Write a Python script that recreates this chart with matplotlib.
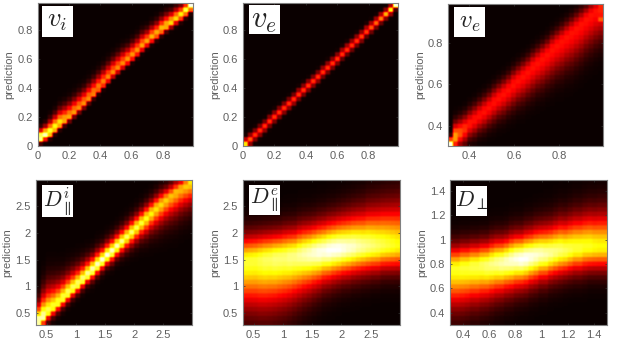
import numpy as np
import matplotlib
matplotlib.use('Agg')
import matplotlib.pyplot as plt
from matplotlib.patches import Rectangle

plt.rcParams['font.family'] = ['Liberation Sans', 'DejaVu Sans']
plt.rcParams['mathtext.fontset'] = 'cm'

W, H = 622, 351
GRAY = '#5f5f5f'

# Per-column readings of each heat map (32 columns): ridge height, ridge heat, spread above, spread below
vi_ridge = [.055,.07,.09,.12,.15,.175,.20,.23,.26,.29,.325,.36,.395,.43,.465,.50,.53,.56,.59,.62,.65,.685,.715,.745,.77,.80,.825,.85,.875,.90,.93,.965]
vi_peak = [1.0,.95,.85,.8,.75,.65,.62,.6,.58,.58,.58,.58,.58,.58,.58,.58,.58,.58,.6,.6,.6,.62,.62,.65,.65,.68,.68,.7,.7,.75,.85,1.0]
vi_up = [.035,.04,.05,.055,.06,.06,.06,.06,.06,.06,.06,.06,.06,.06,.06,.06,.06,.06,.055,.055,.055,.055,.05,.05,.05,.05,.05,.045,.045,.04,.035,.03]
vi_down = [.018,.018,.018,.018,.018,.018,.018,.018,.018,.018,.018,.018,.018,.018,.018,.018,.018,.018,.02,.02,.02,.02,.02,.02,.02,.02,.02,.022,.022,.022,.022,.022]

ve_ridge = [.012,.045,.075,.105,.135,.17,.20,.23,.26,.29,.32,.355,.385,.415,.445,.475,.51,.54,.57,.60,.635,.665,.695,.725,.755,.79,.82,.85,.88,.91,.94,.975]
ve_peak = [.72,.5,.44,.44,.44,.44,.44,.44,.44,.44,.44,.44,.44,.44,.44,.44,.44,.44,.44,.44,.44,.44,.44,.44,.46,.46,.5,.52,.56,.64,.74,1.0]
ve_up = [.024,.024,.024,.024,.024,.024,.024,.024,.024,.024,.024,.024,.024,.024,.024,.024,.024,.024,.024,.024,.024,.024,.024,.024,.024,.024,.022,.022,.022,.02,.02,.014]
ve_down = [.014,.022,.022,.022,.022,.022,.022,.022,.022,.022,.022,.022,.022,.022,.022,.022,.022,.022,.022,.022,.022,.022,.022,.022,.022,.022,.022,.022,.02,.02,.02,.016]

ve2_ridge = [.31,.345,.365,.385,.41,.43,.45,.47,.49,.515,.535,.555,.575,.60,.62,.64,.66,.685,.705,.725,.745,.77,.79,.81,.83,.85,.87,.89,.915,.935,.955,.975]
ve2_peak = [1.0,.62,.5,.44,.4,.39,.39,.39,.39,.39,.39,.39,.39,.39,.39,.39,.39,.39,.39,.39,.39,.39,.39,.39,.39,.39,.39,.39,.39,.39,.39,.42]
ve2_up = [.02,.045,.045,.045,.045,.045,.045,.045,.045,.045,.045,.045,.045,.045,.045,.045,.045,.045,.045,.045,.045,.045,.045,.045,.045,.045,.045,.045,.04,.04,.035,.03]
ve2_down = [.015,.035,.04,.045,.045,.05,.05,.055,.055,.06,.06,.065,.065,.07,.07,.075,.075,.08,.08,.085,.085,.09,.09,.095,.095,.10,.10,.10,.10,.10,.10,.10]
ve2_spot_col, ve2_spot_row, ve2_spot_heat = 31, 28, .5

dpi_ridge = [.34,.42,.52,.60,.68,.77,.86,.95,1.03,1.12,1.21,1.30,1.39,1.48,1.57,1.65,1.74,1.83,1.92,2.01,2.10,2.19,2.28,2.37,2.46,2.54,2.62,2.69,2.76,2.83,2.89,2.95]
dpi_peak = [1.0,.95,.85,.82,.82,.85,.88,.88,.9,.92,.95,.97,.98,1.0,1.0,.98,.95,.9,.85,.85,.82,.8,.78,.75,.72,.7,.68,.66,.66,.66,.68,.72]
dpi_up = [.18,.24,.26,.24,.22,.20,.19,.18,.17,.16,.15,.14,.14,.13,.13,.13,.13,.13,.13,.13,.13,.13,.13,.13,.13,.13,.12,.12,.12,.10,.10,.06]
dpi_down = [.06,.08,.08,.08,.08,.08,.08,.08,.08,.08,.08,.09,.09,.09,.09,.10,.10,.11,.12,.13,.14,.15,.17,.18,.20,.21,.22,.23,.24,.24,.24,.24]

dpe_ridge = [1.46,1.47,1.48,1.49,1.50,1.51,1.52,1.53,1.54,1.55,1.56,1.58,1.60,1.61,1.63,1.64,1.66,1.67,1.69,1.70,1.71,1.72,1.73,1.74,1.74,1.75,1.75,1.75,1.76,1.76,1.76,1.76]
dpe_peak = [.8,.8,.8,.82,.84,.84,.86,.86,.86,.88,.88,.9,.92,.94,.96,.98,.98,1.0,1.0,1.0,.98,.96,.95,.92,.9,.88,.86,.84,.82,.8,.78,.76]
dpe_up = [.30,.30,.30,.30,.30,.30,.30,.30,.31,.31,.31,.32,.32,.32,.32,.33,.33,.34,.34,.35,.36,.37,.38,.39,.40,.42,.43,.44,.45,.46,.47,.48]
dpe_down = [.52,.53,.54,.55,.55,.55,.54,.53,.52,.50,.48,.46,.44,.42,.40,.38,.36,.35,.34,.33,.32,.32,.31,.31,.30,.30,.29,.29,.28,.28,.28,.28]

dp_ridge = [.76,.76,.77,.77,.78,.78,.79,.79,.80,.81,.81,.82,.83,.84,.84,.85,.86,.87,.88,.88,.89,.90,.91,.91,.92,.93,.93,.94,.94,.94,.94,.94]
dp_peak = [.78,.78,.8,.8,.82,.82,.84,.86,.88,.9,.92,.94,.96,.98,1.0,1.0,.98,.96,.94,.92,.9,.88,.86,.84,.82,.8,.8,.78,.78,.76,.75,.75]
dp_up = [.115,.115,.115,.115,.115,.115,.115,.115,.12,.12,.12,.12,.125,.125,.125,.13,.13,.135,.135,.14,.14,.145,.15,.15,.155,.16,.16,.165,.17,.17,.175,.175]
dp_down = [.19,.19,.19,.185,.18,.18,.175,.17,.165,.16,.155,.15,.15,.145,.14,.14,.135,.135,.13,.13,.125,.125,.125,.12,.12,.12,.12,.12,.115,.115,.115,.115]

panel_labels = [r'$v_i$', r'$v_e$', r'$v_e$', r'$D_{\parallel}^{i}$', r'$D_{\parallel}^{e}$', r'$D_{\perp}$']
xticks_list = [[0,.2,.4,.6,.8],[0,.2,.4,.6,.8],[.4,.6,.8],[.5,1,1.5,2,2.5],[.5,1,1.5,2,2.5],[.4,.6,.8,1,1.2,1.4]]
yticks_list = [[0,.2,.4,.6,.8],[0,.2,.4,.6,.8],[.4,.6,.8],[.5,1,1.5,2,2.5],[.5,1,1.5,2,2.5],[.4,.6,.8,1,1.2,1.4]]

limits = [(0,.987,0,.986),(0,.987,0,.986),(.307,.995,.303,.988),(.31,2.99,.276,2.99),(.32,2.99,.276,2.99),(.30,1.5,.30,1.49)]
boxes = [(37.5,3,192.5,146),(243,3,398,146),(448,4,603,146),(35.5,180,192,325),(243,180,399.5,325),(450,180,607,325)]
label_boxes = [(42,6,73,37),(249,5,280,34),(454,7,485,37),(42,185,73,217),(249,185,280,215),(456,186,487,216)]
label_sizes = [19,22,18,15.5,15.5,16]
series = [(vi_ridge,vi_peak,vi_up,vi_down),(ve_ridge,ve_peak,ve_up,ve_down),(ve2_ridge,ve2_peak,ve2_up,ve2_down),
          (dpi_ridge,dpi_peak,dpi_up,dpi_down),(dpe_ridge,dpe_peak,dpe_up,dpe_down),(dp_ridge,dp_peak,dp_up,dp_down)]
power = [2,2,2,1.6,1.8,1.8]
fmt = lambda v: ('%g' % v)

def soften(Z, f=5):
    """Upsample cells and apply a light blur, as in the resampled source picture."""
    A = np.repeat(np.repeat(Z, f, axis=0), f, axis=1)
    P = np.pad(A, 1, mode='edge')
    A = (P[:-2,1:-1] + 2*P[1:-1,1:-1] + P[2:,1:-1]) / 4
    P = np.pad(A, 1, mode='edge')
    return (P[1:-1,:-2] + 2*P[1:-1,1:-1] + P[1:-1,2:]) / 4

fig = plt.figure(figsize=(W/100, H/100), dpi=100, facecolor='white')
for k in range(6):
    x0,y0,x1,y1 = boxes[k]
    ax = fig.add_axes([x0/W, 1-y1/H, (x1-x0)/W, (y1-y0)/H])
    xa,xb,ya,yb = limits[k]
    ridge,peak,up,down = [np.array(a) for a in series[k]]
    ny = 32
    yc = ya + (np.arange(ny)+.5)*(yb-ya)/ny
    d = yc[:,None] - ridge[None,:]
    s = np.where(d>0, up[None,:], down[None,:])
    Z = peak[None,:]*np.exp(-0.5*np.abs(d/s)**power[k])
    if k == 2:
        Z[ve2_spot_row, ve2_spot_col] = ve2_spot_heat
    ax.imshow(soften(Z), origin='lower', extent=[xa,xb,ya,yb], aspect='auto', cmap='hot', vmin=0, vmax=1, interpolation='bilinear')
    ax.set_xlim(xa,xb); ax.set_ylim(ya,yb)
    ax.set_xticks(xticks_list[k]); ax.set_yticks(yticks_list[k])
    ax.set_xticklabels([fmt(v) for v in xticks_list[k]])
    ax.set_yticklabels([fmt(v) for v in yticks_list[k]])
    ax.tick_params(direction='in', length=1.5, width=.5, color='#333333', labelcolor=GRAY, labelsize=8, top=True, right=True, pad=3.5)
    for sp in ax.spines.values():
        sp.set_color('#808080'); sp.set_linewidth(.8)
    ax.set_ylabel('prediction', fontsize=8, color=GRAY, labelpad=2)
    bx0,by0,bx1,by1 = label_boxes[k]
    fig.add_artist(Rectangle((bx0/W,1-by1/H),(bx1-bx0)/W,(by1-by0)/H,transform=fig.transFigure,facecolor='white',edgecolor='none',zorder=5))
    fig.text((bx0+bx1)/2/W, 1-(by0+by1)/2/H, panel_labels[k], fontsize=label_sizes[k], color='#222222', ha='center', va='center', zorder=6)
fig.savefig('out.png', dpi=100)
